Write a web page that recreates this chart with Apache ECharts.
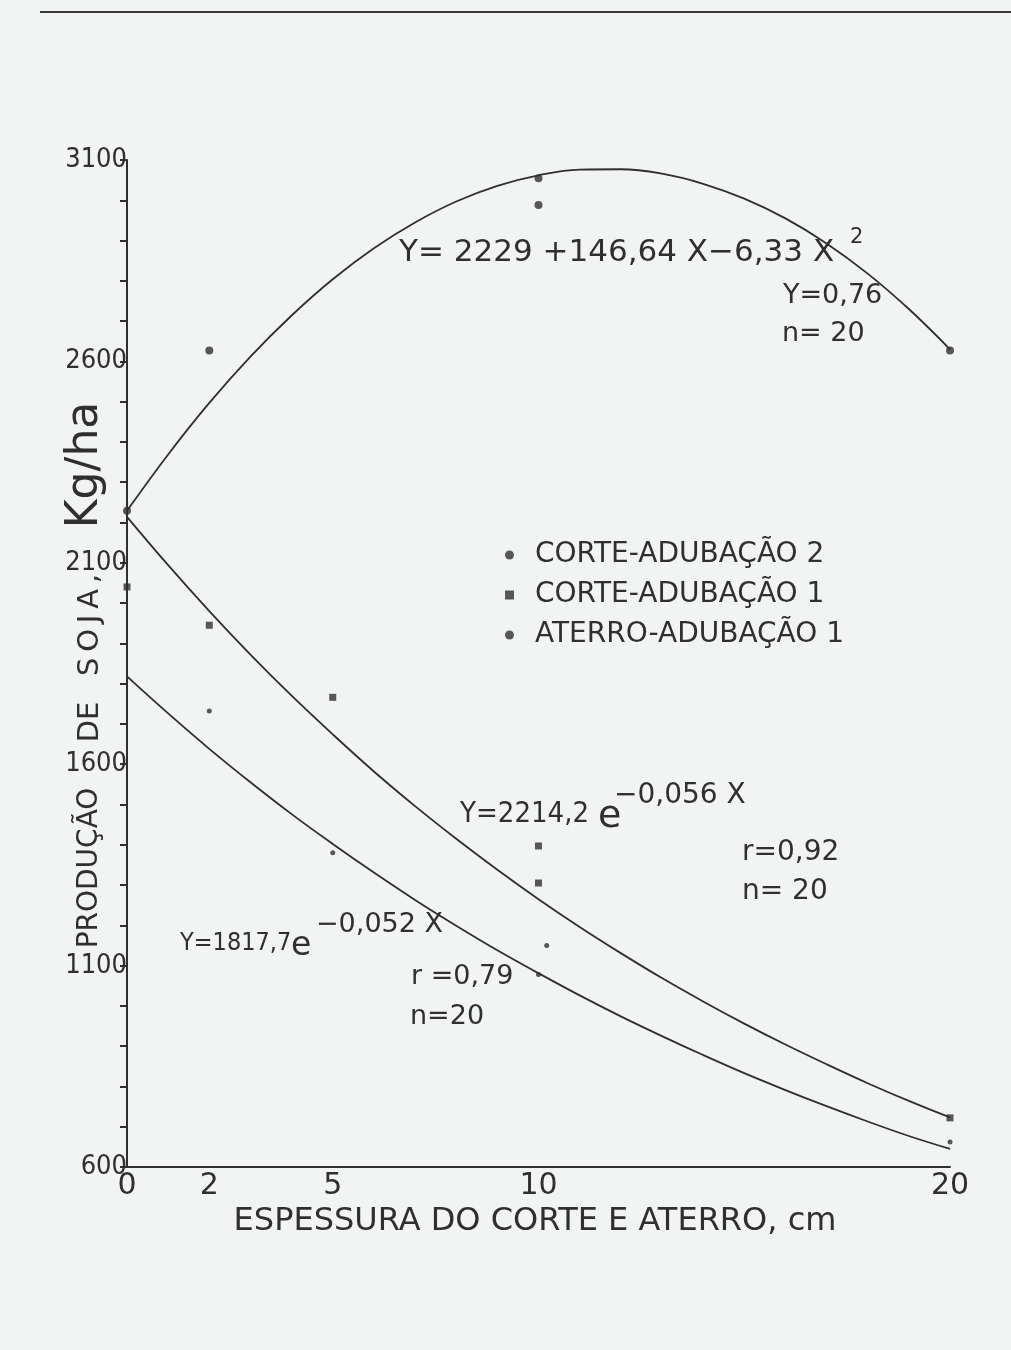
<!DOCTYPE html>
<html>
<head>
<meta charset="utf-8">
<script src="https://cdn.jsdelivr.net/npm/echarts@6/dist/echarts.min.js"></script>
<style>
html,body{margin:0;padding:0;background:#f2f4f3;}
#chart{width:1011px;height:1350px;}
</style>
</head>
<body>
<div id="chart"></div>
<script>
// ---- data ----
const X_TICK_LABELS = [0, 2, 5, 10, 20];
const Y_TICK_LABELS = [600, 1100, 1600, 2100, 2600, 3100];

const CURVE_X = [0,1,2,3,4,5,6,7,8,9,10,11,12,13,14,15,16,17,18,19,20];
const CURVE_QUAD = [2229,2369,2497,2612,2714,2804,2881,2945,2997,3036,3062,3076,3077,3066,3041,3004,2955,2893,2818,2730,2630];
const CURVE_EXP_A = [2214,2094,1980,1872,1770,1674,1582,1496,1415,1338,1265,1196,1131,1069,1011,956,904,855,808,764,723];
const CURVE_EXP_B = [1818,1726,1638,1555,1476,1402,1331,1263,1199,1138,1081,1026,974,925,878,833,791,751,713,677,645];

// observed points
const CA2_X = [0, 2, 10, 10, 20];
const CA2_Y = [2229, 2627, 3055, 2988, 2627];
const CA1_X = [0, 2, 5, 10, 10, 20];
const CA1_Y = [2040, 1945, 1766, 1397, 1305, 722];
const AA1_X = [2, 5, 10.2, 10, 20];
const AA1_Y = [1732, 1380, 1150, 1078, 662];

const SERIES_NAMES = ['CORTE-ADUBAÇÃO 2', 'CORTE-ADUBAÇÃO 1', 'ATERRO-ADUBAÇÃO 1'];

// ---- chart ----
const INK = '#2f2f2f';
const FONT = "'DejaVu Sans', sans-serif";
const NARROW = "'DejaVu Sans Condensed', 'DejaVu Sans', sans-serif";
const zip = (xs, ys) => xs.map((x, i) => [x, ys[i]]);

const chart = echarts.init(document.getElementById('chart'), null, {renderer: 'canvas'});

function curveSeries(vals) {
  return {
    type: 'line', data: zip(CURVE_X, vals), smooth: 0.4, showSymbol: false,
    lineStyle: {color: INK, width: 1.8}, silent: true, z: 2
  };
}
function pointSeries(name, xs, ys, symbol, size) {
  return {
    name, type: 'scatter', data: zip(xs, ys), symbol, symbolSize: size,
    itemStyle: {color: INK}, z: 3
  };
}

function txt(x, y, text, size, align, family) {
  return {
    type: 'text', x, y,
    style: {text, font: size + 'px ' + (family || FONT), fill: INK, textAlign: align || 'left', textVerticalAlign: 'middle'}
  };
}
function vtxt(x, y, text, size) {
  return {
    type: 'text', x, y, rotation: Math.PI / 2,
    style: {text, font: size + 'px ' + FONT, fill: INK, textAlign: 'center', textVerticalAlign: 'middle'}
  };
}

chart.setOption({
  backgroundColor: '#f2f4f3',
  animation: false,
  grid: {left: 127, right: 61, top: 160, bottom: 183, containLabel: false},
  xAxis: {
    type: 'value', min: 0, max: 20, interval: 1,
    axisLine: {show: true, onZero: false, lineStyle: {color: INK, width: 2}},
    axisTick: {show: false},
    splitLine: {show: false},
    axisLabel: {
      color: INK, fontFamily: FONT, fontSize: 30, margin: 4,
      formatter: v => X_TICK_LABELS.indexOf(v) >= 0 ? String(v) : ''
    }
  },
  yAxis: {
    type: 'value', min: 600, max: 3100, interval: 100,
    axisLine: {show: true, onZero: false, lineStyle: {color: INK, width: 2}},
    axisTick: {show: true, length: 7, lineStyle: {color: INK, width: 2}},
    splitLine: {show: false},
    axisLabel: {
      color: INK, fontFamily: NARROW, fontSize: 27, margin: 0,
      formatter: v => Y_TICK_LABELS.indexOf(v) >= 0 ? String(v) : ''
    }
  },
  legend: {
    orient: 'vertical', left: 500, top: 535, itemGap: 10,
    itemWidth: 9, itemHeight: 9,
    textStyle: {color: INK, fontFamily: FONT, fontSize: 28, lineHeight: 30, padding: [0,0,0,16]},
    data: [
      {name: SERIES_NAMES[0], icon: 'circle'},
      {name: SERIES_NAMES[1], icon: 'rect'},
      {name: SERIES_NAMES[2], icon: 'circle'}
    ],
    selectedMode: false
  },
  series: [
    curveSeries(CURVE_QUAD),
    curveSeries(CURVE_EXP_A),
    curveSeries(CURVE_EXP_B),
    pointSeries(SERIES_NAMES[0], CA2_X, CA2_Y, 'circle', 8),
    pointSeries(SERIES_NAMES[1], CA1_X, CA1_Y, 'rect', 7),
    pointSeries(SERIES_NAMES[2], AA1_X, AA1_Y, 'circle', 5)
  ],
  graphic: [
    {type: 'line', shape: {x1: 40, y1: 12, x2: 1011, y2: 12}, style: {stroke: '#3a3a3a', lineWidth: 2}},
    // axis titles
    vtxt(90, 868, 'PRODUÇÃO', 28),
    vtxt(90, 722, 'DE', 29),
    vtxt(90, 625, 'S\u2009O\u2009J\u2009A\u2009,', 29),
    vtxt(86, 465, 'Kg/ha', 44),
    txt(535, 1222, 'ESPESSURA DO CORTE E ATERRO, cm', 32, 'center'),
    // quadratic fit
    txt(399, 253, 'Y= 2229 +146,64 X−6,33 X', 31),
    txt(850, 238, '2', 21),
    txt(783, 296, 'Y=0,76', 27),
    txt(782, 334, 'n= 20', 27),
    // exponential fit A
    txt(460, 814, 'Y=2214,2', 29, 'left', NARROW),
    txt(598, 817, 'e', 38),
    txt(614, 796, '−0,056 X', 28),
    txt(742, 853, 'r=0,92', 28),
    txt(742, 892, 'n= 20', 28),
    // exponential fit B
    txt(180, 943, 'Y=1817,7', 25, 'left', NARROW),
    txt(291, 946, 'e', 33),
    txt(316, 925, '−0,052 X', 27),
    txt(411, 977, 'r =0,79', 27),
    txt(410, 1017, 'n=20', 27)
  ]
});
</script>
</body>
</html>
